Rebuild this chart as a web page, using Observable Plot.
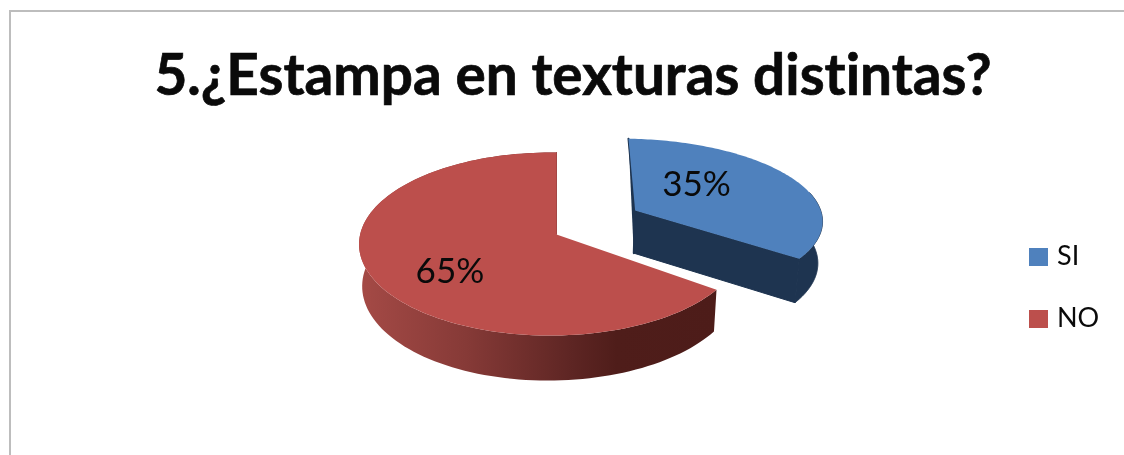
<!DOCTYPE html>
<html>
<head>
<meta charset="utf-8">
<script src="https://cdn.jsdelivr.net/npm/d3@7"></script>
<script src="https://cdn.jsdelivr.net/npm/@observablehq/plot@0.6"></script>
<style>
  html, body { margin: 0; padding: 0; background: #fff; overflow: hidden; }
  #page { position: relative; width: 1124px; height: 455px; font-family: Lato, sans-serif; color: #0a0a0a; filter: blur(0.45px); }
  #frame { position: absolute; left: 9px; top: 10px; right: -4px; bottom: -4px; border-left: 2px solid #bdbdbd; border-top: 2px solid #bdbdbd; }
  #title { position: absolute; left: 0; top: 37px; width: 1146px; text-align: center; font-size: 56.7px; line-height: 72px; font-weight: 700; white-space: nowrap; font-variant-ligatures: none; -webkit-text-stroke: 0.7px #0a0a0a; }
  #chart { position: absolute; left: 0; top: 0; }
  #legend { position: absolute; left: 1029px; top: 237px; font-size: 27px; line-height: 36px; }
  .item { position: relative; height: 62px; padding-left: 28px; white-space: nowrap; }
  .swatch { position: absolute; left: 0; top: 11px; width: 19px; height: 18px; }
</style>
</head>
<body>
<div id="page">
  <div id="frame"></div>
  <div id="title">5.¿Estampa en texturas distintas?</div>
  <div id="chart"></div>
  <div id="legend"></div>
</div>
<script>
const titleText = "5.¿Estampa en texturas distintas?";
const categories = ["SI", "NO"];
const percents = [35, 65];
const topColors = ["#4f81bd", "#bc4f4c"];
const sideColors = ["#1e3450", "url(#redSide)"];

// Oblique view of a pie: a unit disc seen in perspective, extruded downward
const persp = {vz: 0.104, vx: 0.03, depth: 0.445, shrink: 0.016};
const slices = [
  {ox: 0.43, oy: 0.275, rx: 1.06, ry: 0.93, dx: -35, dy: -6, wallFrom: 0.6, low: 1.1},
  {ox: 0, oy: 0, rx: 1, ry: 1, dx: 0, dy: 12, wallFrom: 0, low: 1}
];

function project(u, v, low = 0) {
  const s = 1 / (1 + persp.vz * v + persp.vx * u);
  return {x: u * s * (1 - persp.shrink * low), y: v * s - low * persp.depth * s};
}
const rad = (p) => (p / 100) * 2 * Math.PI;
function rim(sl, t, low = 0) {
  return project(sl.ox + sl.rx * Math.sin(t), sl.oy + sl.ry * Math.cos(t), low);
}
function arc(sl, a, b, low = 0) {
  return d3.range(0, 121).map((i) => rim(sl, a + ((b - a) * i) / 120, low));
}

let acc = 0;
const parts = categories.map((name, i) => {
  const a = rad(acc);
  acc += percents[i];
  const b = rad(acc);
  const sl = slices[i];
  const apex = project(sl.ox, sl.oy), apexLow = project(sl.ox, sl.oy, sl.low);
  const top = [apex, ...arc(sl, a, b), apex];
  // outer wall, drawn beneath the top face
  const wa = a + (b - a) * sl.wallFrom;
  const wall = [...arc(sl, wa, b), ...arc(sl, wa, b, sl.low).reverse()];
  // the cut wall from the centre to each radial edge
  const cutEnd = [apex, rim(sl, a === 0 ? b : a), rim(sl, a === 0 ? b : a, sl.low), apexLow];
  const cutBack = [rim(sl, a === 0 ? a : b), apex, apexLow];
  const mid = (a + b) / 2;
  const lab = project(sl.ox + 0.6 * sl.rx * Math.sin(mid), sl.oy + 0.6 * sl.ry * Math.cos(mid));
  return {name, i, sl, top, wall, cutEnd, cutBack, lab: {...lab, text: percents[i] + "%", dx: sl.dx, dy: sl.dy}};
});

const poly = (pts, fill, extra = {}) => Plot.line(pts, {x: "x", y: "y", fill, stroke: "none", curve: "linear", ...extra});

const defs = () => {
  const ns = "http://www.w3.org/2000/svg";
  const d = document.createElementNS(ns, "defs");
  const g = document.createElementNS(ns, "linearGradient");
  g.setAttribute("id", "redSide");
  g.setAttribute("gradientUnits", "objectBoundingBox");
  g.setAttribute("x1", "0"); g.setAttribute("x2", "1"); g.setAttribute("y1", "0"); g.setAttribute("y2", "0");
  [[0, "#a54a46"], [0.3, "#863a37"], [0.6, "#5d2523"], [0.72, "#4f1d1a"], [1, "#4d1c19"]].forEach(([o, c]) => {
    const s = document.createElementNS(ns, "stop");
    s.setAttribute("offset", o); s.setAttribute("stop-color", c);
    g.appendChild(s);
  });
  d.appendChild(g);
  return d;
};

const [blue, red] = parts;
const seam = {stroke: sideColors[0], strokeWidth: 1};
const chart = Plot.plot({
  width: 1124,
  height: 455,
  margin: 0,
  style: {background: "transparent", overflow: "visible"},
  x: {domain: [-1, 1], range: [556 - 190.5, 556 + 190.5], axis: null},
  y: {domain: [-1, 1], range: [234 + 90.5, 234 - 90.5], axis: null},
  marks: [
    defs,
    poly(red.wall, sideColors[1]),
    poly(red.cutBack, "#8f3f3c", {stroke: "#8f3f3c", strokeWidth: 1}),
    poly(red.top, topColors[1]),
    poly(blue.wall, sideColors[0], seam),
    poly(blue.cutEnd, sideColors[0], seam),
    poly(blue.cutBack, sideColors[0], {stroke: sideColors[0], strokeWidth: 2}),
    poly(blue.top, topColors[0]),
    ...parts.map((p) => Plot.text([p.lab], {
      x: "x", y: "y", text: "text", dx: p.lab.dx, dy: p.lab.dy,
      fontSize: 35, fontFamily: "Lato, sans-serif", fill: "#0a0a0a"
    }))
  ]
});
document.getElementById("chart").appendChild(chart);
document.getElementById("title").textContent = titleText;
document.getElementById("legend").innerHTML = categories
  .map((c, i) => `<div class="item"><span class="swatch" style="background:${topColors[i]}"></span>${c}</div>`)
  .join("");
</script>
</body>
</html>
